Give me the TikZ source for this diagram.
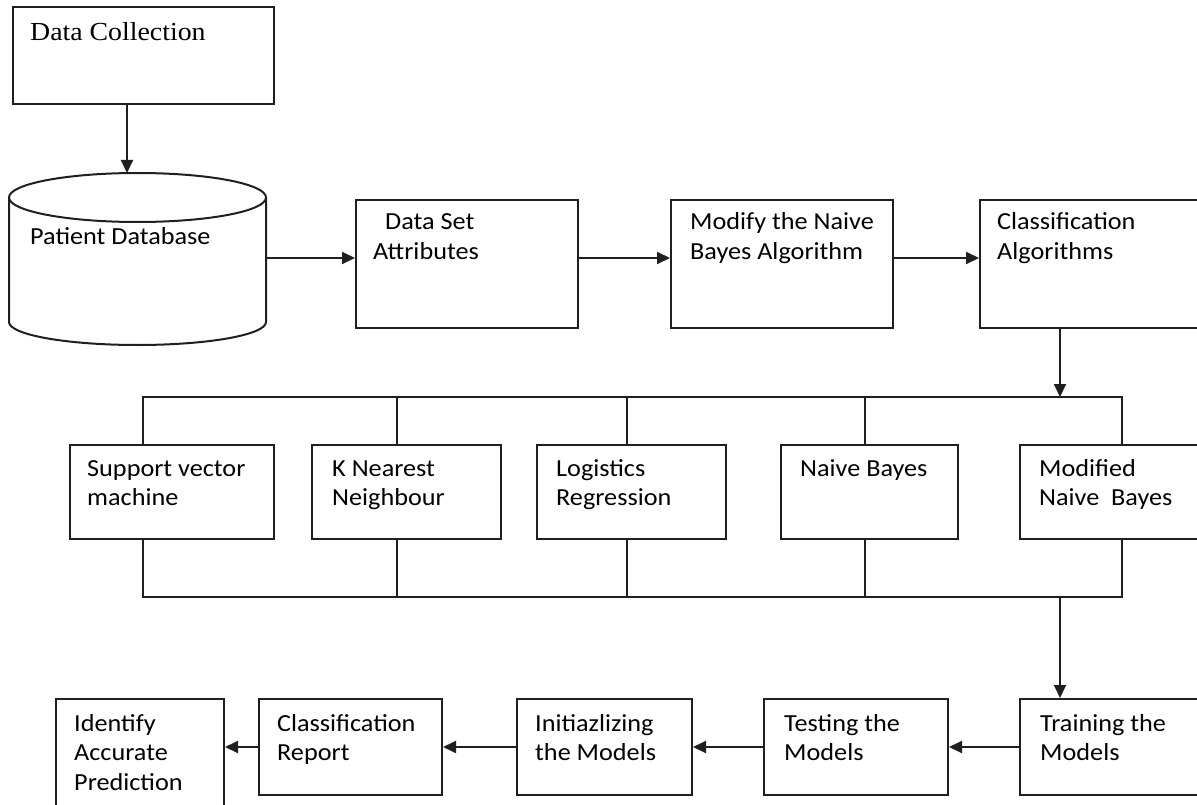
\documentclass[tikz,border=0pt]{standalone}
\usepackage{fontspec}
\setmainfont{Carlito}[FakeStretch=1.07]
\newfontfamily\dcserif{Liberation Serif}[FakeStretch=1.07]
\usetikzlibrary{arrows.meta}
\begin{document}
\begin{tikzpicture}[x=1pt,y=-1pt,
  box/.style={draw=black!88, line width=2pt, rectangle, inner sep=0pt},
  ghost/.style={rectangle, inner sep=0pt},
  txt/.style={anchor=base west, inner sep=0pt, align=left, font=\fontsize{24.5}{29.5}\selectfont, text=black},
  conn/.style={draw=black!88, line width=1.9pt},
  arr/.style={conn, -{Triangle[length=13pt,width=12pt]}}]
\useasboundingbox (0,0) rectangle (1197,805);
\clip (0,0) rectangle (1197,805);

% ---------- row 1 ----------
\node[box, minimum width=261pt, minimum height=97pt] (dc) at (143.5,55.5) {};
\node[anchor=base west, inner sep=0pt, font=\dcserif\fontsize{26}{30}\selectfont] (dct) at (30,41) {Data Collection};

% cylinder (patient database)
\node[ghost, minimum width=257pt, minimum height=172pt] (db) at (137.5,259) {};
\draw[line width=2pt, draw=black!88] (137.5,197.5) ellipse [x radius=128.5pt, y radius=24.5pt];
\draw[line width=2pt, draw=black!88] (9,197.5) -- (9,322)
  arc[start angle=180, end angle=360, x radius=128.5pt, y radius=23pt] -- (266,197.5);
\node[txt] (dbt) at (30,245) {Patient Database};

% (multi-line text nodes are anchored at the baseline of their last line)
\node[box, minimum width=222pt, minimum height=128pt] (dsa) at (467,264) {};
\node[txt] (dsat) at (373,259.5) {\hspace*{12pt}Data Set\\Attributes};

\node[box, minimum width=222pt, minimum height=128pt] (mod) at (782,264) {};
\node[txt] (modt) at (690,259.5) {Modify the Naive\\Bayes Algorithm};

\node[box, minimum width=235pt, minimum height=128pt] (cla) at (1097.5,264) {};
\node[txt] (clat) at (997,259.5) {Classification\\Algorithms};

\coordinate (dbtop) at (127,173);
\draw[arr] (dc.south -| dbtop) -- (dbtop);
\coordinate (r1) at (0,258);
\draw[arr] (db.east |- r1) -- (dsa.west |- r1);
\draw[arr] (dsa.east |- r1) -- (mod.west |- r1);
\draw[arr] (mod.east |- r1) -- (cla.west |- r1);

% ---------- row 2 ----------
\node[box, minimum width=204pt, minimum height=94pt] (svm) at (172,492) {};
\node[txt] (svmt) at (87,505.5) {Support vector\\machine};
\node[box, minimum width=189pt, minimum height=94pt] (knn) at (406.5,492) {};
\node[txt] (knnt) at (332,505.5) {K Nearest\\Neighbour};
\node[box, minimum width=189pt, minimum height=94pt] (lr) at (631.5,492) {};
\node[txt] (lrt) at (556,505.5) {Logistics\\Regression};
\node[box, minimum width=177pt, minimum height=94pt] (nb) at (869.5,492) {};
\node[txt] (nbt) at (800,476) {Naive Bayes};
\node[box, minimum width=195pt, minimum height=94pt] (mnb) at (1117.5,492) {};
\node[txt] (mnbt) at (1039,505.5) {Modified\\Naive\ \ Bayes};

\coordinate (t1) at (143,397);
\coordinate (t2) at (397,397);
\coordinate (t3) at (627,397);
\coordinate (t4) at (865,397);
\coordinate (t5) at (1122,397);
\coordinate (b1) at (143,597);
\coordinate (b2) at (397,597);
\coordinate (b3) at (627,597);
\coordinate (b4) at (865,597);
\coordinate (b5) at (1122,597);

\draw[conn] (t1 |- svm.north) -- (t1) -- (t5) -- (t5 |- mnb.north);
\draw[conn] (t2) -- (t2 |- knn.north);
\draw[conn] (t3) -- (t3 |- lr.north);
\draw[conn] (t4) -- (t4 |- nb.north);
\draw[conn] (b1 |- svm.south) -- (b1) -- (b5) -- (b5 |- mnb.south);
\draw[conn] (b2) -- (b2 |- knn.south);
\draw[conn] (b3) -- (b3 |- lr.south);
\draw[conn] (b4) -- (b4 |- nb.south);

\coordinate (c1) at (1060,397);
\coordinate (c2) at (1060,597);
\draw[arr] (cla.south -| c1) -- (c1);

% ---------- row 3 ----------
\node[box, minimum width=168pt, minimum height=141pt] (idp) at (140,769.5) {};
\node[txt] (idpt) at (74,790) {Identify\\Accurate\\Prediction};
\node[box, minimum width=183pt, minimum height=96pt] (cr) at (350.5,747) {};
\node[txt] (crt) at (277,760.5) {Classification\\Report};
\node[box, minimum width=175pt, minimum height=96pt] (init) at (604.5,747) {};
\node[txt] (initt) at (535,760.5) {Initiazlizing\\the Models};
\node[box, minimum width=184pt, minimum height=96pt] (test) at (856,747) {};
\node[txt] (testt) at (784,760.5) {Testing the\\Models};
\node[box, minimum width=195pt, minimum height=96pt] (train) at (1117.5,747) {};
\node[txt] (traint) at (1040,760.5) {Training the\\Models};

\draw[arr] (c2) -- (c2 |- train.north);
\draw[arr] (train.west) -- (test.east);
\draw[arr] (test.west) -- (init.east);
\draw[arr] (init.west) -- (cr.east);
\draw[arr] (cr.west) -- (idp.east |- cr.west);
\end{tikzpicture}
\end{document}
